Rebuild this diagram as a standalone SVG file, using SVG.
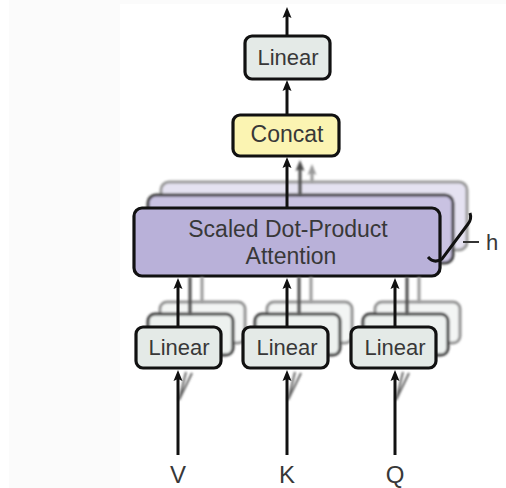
<svg xmlns="http://www.w3.org/2000/svg" width="506" height="488" viewBox="0 0 506 488">
  <defs>
    <style>
      .box { stroke: #111; stroke-width: 3.2; }
      .lin { fill: #e4eae7; }
      .cat { fill: #fbf4b2; }
      .att { fill: #b9b1d9; }
      .att2 { fill: #c9c2e2; stroke: #3a3a3a; stroke-width: 3; }
      .att3 { fill: #e5e2f1; stroke: #999; stroke-width: 3; }
      .lin2 { fill: #edf1ef; stroke: #3a3a3a; stroke-width: 3; }
      .lin3 { fill: #f3f5f4; stroke: #929292; stroke-width: 3; }
      .lbl { font-family: "Liberation Sans", Arial, sans-serif; fill: #383838; text-anchor: middle; }
      .wire { stroke: #111; stroke-width: 3; fill: none; }
      .wire2 { stroke: #4a4a4a; stroke-width: 3; fill: none; }
      .wire3 { stroke: #9a9a9a; stroke-width: 3; fill: none; }
    </style>
    <filter id="soft" filterUnits="userSpaceOnUse" x="0" y="0" width="506" height="488">
      <feGaussianBlur stdDeviation="0.8"/>
    </filter>
    <marker id="ah" markerUnits="userSpaceOnUse" markerWidth="12" markerHeight="10" refX="2" refY="5" orient="auto">
      <path d="M0,0.5 L11,5 L0,9.5 L2,5 z" fill="#111"/>
    </marker>
    <marker id="ah2" markerUnits="userSpaceOnUse" markerWidth="12" markerHeight="10" refX="2" refY="5" orient="auto">
      <path d="M0,0.5 L11,5 L0,9.5 L2,5 z" fill="#4a4a4a"/>
    </marker>
    <marker id="ah3" markerUnits="userSpaceOnUse" markerWidth="12" markerHeight="10" refX="2" refY="5" orient="auto">
      <path d="M0,0.5 L11,5 L0,9.5 L2,5 z" fill="#9a9a9a"/>
    </marker>
  </defs>

  <!-- page -->
  <rect width="506" height="488" fill="#fff"/>
  <rect x="9" y="0" width="111" height="488" fill="#fbfbfb"/>
  <rect x="120" y="0" width="386" height="4" fill="#fbfbfb"/>

  <!-- attention heads, stacked h times -->
  <g id="attention">
    <g filter="url(#soft)">
      <rect class="att3" x="161" y="182" width="306" height="68" rx="8"/>
      <rect class="att2" x="148" y="195" width="305" height="68" rx="8"/>
    </g>
    <rect class="box att" x="134" y="208" width="306" height="68" rx="8"/>
    <text class="lbl" x="288" y="237" font-size="23">Scaled Dot-Product</text>
    <text class="lbl" x="291" y="264" font-size="23">Attention</text>
  </g>

  <!-- projection of V -->
  <g id="linear-v">
    <g filter="url(#soft)">
      <rect class="lin3" x="160" y="302" width="85" height="41" rx="7"/>
      <rect class="lin2" x="148" y="314" width="85" height="41" rx="7"/>
    </g>
    <rect class="box lin" x="136" y="327" width="85" height="41" rx="7"/>
    <text class="lbl" x="179" y="355" font-size="22">Linear</text>
  </g>

  <!-- projection of K -->
  <g id="linear-k">
    <g filter="url(#soft)">
      <rect class="lin3" x="267" y="302" width="85" height="41" rx="7"/>
      <rect class="lin2" x="255" y="314" width="85" height="41" rx="7"/>
    </g>
    <rect class="box lin" x="243" y="327" width="85" height="41" rx="7"/>
    <text class="lbl" x="287" y="355" font-size="22">Linear</text>
  </g>

  <!-- projection of Q -->
  <g id="linear-q">
    <g filter="url(#soft)">
      <rect class="lin3" x="375" y="302" width="85" height="41" rx="7"/>
      <rect class="lin2" x="363" y="314" width="85" height="41" rx="7"/>
    </g>
    <rect class="box lin" x="351" y="327" width="85" height="41" rx="7"/>
    <text class="lbl" x="395" y="355" font-size="22">Linear</text>
  </g>

  <g id="concat">
    <rect class="box cat" x="233" y="115" width="106" height="41" rx="7"/>
    <text class="lbl" x="287" y="142" font-size="23">Concat</text>
  </g>

  <g id="linear-out">
    <rect class="box lin" x="245" y="36" width="85" height="43" rx="7"/>
    <text class="lbl" x="288" y="65" font-size="22">Linear</text>
  </g>

  <!-- inputs -->
  <g id="inputs">
    <text class="lbl" x="178" y="483" font-size="24">V</text>
    <text class="lbl" x="287" y="483" font-size="24">K</text>
    <text class="lbl" x="395" y="483" font-size="24">Q</text>
  </g>

  <!-- repeat count -->
  <g id="heads">
    <path class="wire" d="M428,257 Q434,264 442,259 L468,224 Q472,219 470,213"/>
    <line x1="463" y1="242" x2="479" y2="242" stroke="#333" stroke-width="2"/>
    <text class="lbl" x="492" y="250" font-size="22">h</text>
  </g>

  <g id="connectors">
    <!-- inputs into the projections -->
    <g filter="url(#soft)">
      <path d="M179,400 L186,372 M179,400 L192,373" stroke="#666" stroke-width="2" fill="none"/>
      <path d="M288,400 L295,372 M288,400 L301,373" stroke="#666" stroke-width="2" fill="none"/>
      <path d="M396,400 L403,372 M396,400 L409,373" stroke="#666" stroke-width="2" fill="none"/>
    </g>
    <line class="wire" x1="178" y1="455" x2="178" y2="379" marker-end="url(#ah)"/>
    <line class="wire" x1="287" y1="455" x2="287" y2="379" marker-end="url(#ah)"/>
    <line class="wire" x1="395" y1="455" x2="395" y2="379" marker-end="url(#ah)"/>

    <!-- projections into the attention heads -->
    <g filter="url(#soft)">
      <line class="wire2" x1="190" y1="314" x2="190" y2="277"/>
      <line class="wire3" x1="202" y1="302" x2="202" y2="277"/>
      <line class="wire2" x1="299" y1="314" x2="299" y2="277"/>
      <line class="wire3" x1="311" y1="302" x2="311" y2="277"/>
      <line class="wire2" x1="407" y1="314" x2="407" y2="277"/>
      <line class="wire3" x1="419" y1="302" x2="419" y2="277"/>
    </g>
    <line class="wire" x1="178" y1="327" x2="178" y2="287" marker-end="url(#ah)"/>
    <line class="wire" x1="287" y1="327" x2="287" y2="287" marker-end="url(#ah)"/>
    <line class="wire" x1="395" y1="327" x2="395" y2="287" marker-end="url(#ah)"/>

    <!-- heads into concat -->
    <g filter="url(#soft)">
      <line class="wire3" x1="312" y1="182" x2="312" y2="173" marker-end="url(#ah3)"/>
      <line class="wire2" x1="300" y1="195" x2="300" y2="169" marker-end="url(#ah2)"/>
    </g>
    <line class="wire" x1="287" y1="208" x2="287" y2="166" marker-end="url(#ah)"/>

    <!-- concat to output projection, and output -->
    <line class="wire" x1="287" y1="115" x2="287" y2="89" marker-end="url(#ah)"/>
    <line class="wire" x1="287" y1="36" x2="287" y2="16" marker-end="url(#ah)"/>
  </g>
</svg>
